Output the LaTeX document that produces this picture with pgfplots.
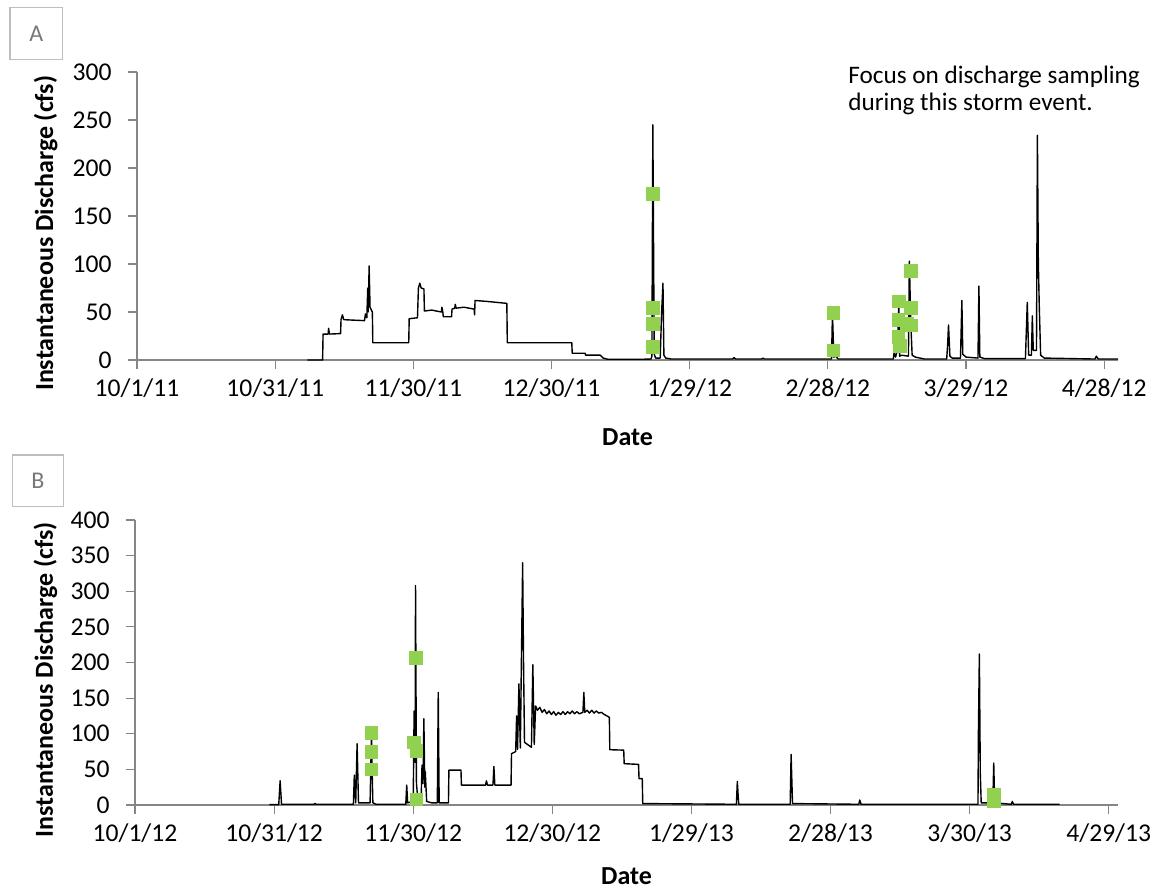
\documentclass[border=0pt]{standalone}
\usepackage{pgfplots}
\pgfplotsset{compat=1.18}
\usepackage{fontspec}
\setmainfont{Carlito}
\definecolor{axgray}{RGB}{134,134,134}
\definecolor{boxgray}{RGB}{190,190,190}
\definecolor{lettergray}{RGB}{120,120,120}
\definecolor{mgreen}{RGB}{146,208,80}
\pgfplotsset{
  panel/.style={
    scale only axis,
    axis x line*=bottom, axis y line*=left,
    axis line style={-, draw=axgray, line width=0.6bp},
    tick style={draw=axgray, line width=0.6bp},
    tick align=outside, major tick length=4.5bp,
    xmin=0, xtick={0,30,...,210},
    ymin=0,
    /pgf/number format/assume math mode=true,
    tick label style={font=\fontsize{12.8bp}{14bp}\selectfont},
    yticklabel style={anchor=east, inner sep=0pt, xshift=-8bp},
    xticklabel style={anchor=north, inner sep=0pt, yshift=-4.5bp},
    label style={font=\bfseries\fontsize{13bp}{15bp}\selectfont},
    xlabel={Date},
    ylabel={Instantaneous Discharge (cfs)},
    clip=false,
  },
  flow/.style={black, line width=0.7bp, no marks, line join=round},
  samp/.style={only marks, mark=square*, mark size=3.2bp,
    mark options={fill=mgreen, draw=mgreen, rounded corners=0.8bp}},
}
\begin{document}
\begin{tikzpicture}
\useasboundingbox (0,0) rectangle (581bp,445bp);
% ---------------- Panel A ----------------
\begin{axis}[panel,
  at={(68.5bp,265bp)}, anchor=south west,
  width=490.5bp, height=144bp,
  xmax=213, ymax=300, ytick={0,50,...,300},
  xticklabels={10/1/11,10/31/11,11/30/11,12/30/11,1/29/12,2/28/12,3/29/12,4/28/12},
  xlabel style={at={(rel axis cs:0.5,-0.267)}, anchor=center},
  ylabel style={at={(rel axis cs:-0.093,0.44)}, anchor=center},
]
\addplot[flow] coordinates {
(37,0) (40.3,0) (40.4,27) (41.5,27) (41.6,33) (41.8,27) (44.2,27.5) (44.3,42)
(44.6,47) (44.9,42) (47,41.5) (49.4,41) (49.6,48) (49.9,44) (50.1,75) (50.2,50)
(50.4,98) (50.6,55) (51.1,50) (51.2,18) (59.0,18) (59.1,43) (60.9,44) (61.1,75)
(61.4,80) (61.7,75) (62.3,74) (62.4,51) (64,52) (65,51) (66.1,50) (66.2,55)
(66.4,50) (66.5,45) (68.3,45) (68.4,53) (69.0,54) (69.1,58) (69.3,54) (71,55)
(73.2,53) (73.3,47) (73.4,62) (76,61) (80.3,59) (80.4,18) (94.4,18) (94.5,7)
(97.3,7) (97.4,5) (100.6,5) (101.2,2) (102.2,0.8) (110,0.8) (111.6,1) (111.8,4)
(112.0,245) (112.3,6) (112.6,2) (113.6,2) (113.9,49) (114.2,80) (114.4,5) (114.8,2)
(116,1) (129.3,1) (129.6,2.5) (130,1) (135.6,1) (135.9,2) (136.2,1) (150.8,1)
(151.0,49) (151.3,3) (151.8,4) (152.2,1) (164.2,1) (164.4,8) (164.7,3) (165.1,10)
(165.4,61) (165.6,4) (166,5) (167.5,4) (167.7,103) (168.0,40) (168.3,5) (169,3)
(171,1) (175.8,1) (176.0,15) (176.2,36.5) (176.5,4) (177,2) (178.8,2) (179.1,62)
(179.3,6) (180,3) (182.6,2) (182.8,77) (183,3) (184,1.5) (192.9,1.5) (193.3,60)
(193.6,5) (194.2,5) (194.4,46) (194.6,10) (195.3,10) (195.5,234) (195.7,102) (195.9,57)
(196.2,5) (197,2) (208,1) (208.3,4) (208.7,1) (213,1)
};
\addplot[samp] coordinates {
(112.0,173) (112.0,54) (112.0,38) (112.0,14)
(151.2,49) (151.2,10)
(165.4,61) (165.3,42) (165.3,24) (165.6,15)
(168.0,93) (168.0,54) (168.0,36) (167.2,38)
};
\end{axis}
% ---------------- Panel B ----------------
\begin{axis}[panel,
  at={(67.5bp,42.5bp)}, anchor=south west,
  width=491.5bp, height=142.5bp,
  xmax=212, ymax=400, ytick={0,50,...,400},
  xticklabels={10/1/12,10/31/12,11/30/12,12/30/12,1/29/13,2/28/13,3/30/13,4/29/13},
  xlabel style={at={(rel axis cs:0.5,-0.248)}, anchor=center},
  ylabel style={at={(rel axis cs:-0.091,0.44)}, anchor=center},
]
\addplot[flow] coordinates {
(29,0.5) (31.0,0.5) (31.3,34) (31.6,1) (38.6,1) (38.8,2) (39.1,1) (47.1,1)
(47.3,42) (47.6,3) (47.9,86) (48.2,3) (50.7,3) (51.0,101) (51.1,60) (51.3,3)
(52,1) (58.4,1) (58.6,28) (58.8,3) (60.0,5) (60.2,132) (60.4,60) (60.5,308)
(60.7,30) (61.0,8) (61.7,5) (61.9,56) (62.1,30) (62.3,121) (62.5,25) (62.6,47)
(62.9,5) (64,3) (65.2,3) (65.4,158) (65.6,3) (67.6,3) (67.7,49) (70.3,49)
(70.4,28) (75.6,28) (75.8,34) (76,28) (77.2,28) (77.4,54) (77.6,28) (81.1,28)
(81.2,72) (82.1,75) (82.3,125) (82.5,78) (82.8,170) (83.1,80) (83.6,340) (83.8,197)
(84.0,88) (85.5,81) (85.8,197) (86.1,85) (86.4,139) (86.8,133) (87.3,137) (87.8,130)
(88.3,134) (88.8,128) (89.3,132) (89.8,127) (90.3,131) (90.8,126) (91.3,130) (91.8,127)
(92.3,131) (92.8,127) (93.3,131) (93.8,128) (94.3,132) (94.8,128) (95.3,131) (95.8,128)
(96.6,130) (96.8,158) (97.0,130) (97.5,133) (98,129) (98.5,133) (99,129) (99.5,132)
(100,129) (100.6,130) (101.2,127) (101.8,125) (102.3,123) (102.4,77.6) (105.4,77)
(105.5,58) (108.6,57) (108.7,37) (109.4,37) (109.5,2) (129.7,1) (129.9,33) (130.2,1)
(141.3,1) (141.5,71) (141.8,2) (156.1,1) (156.3,7) (156.6,1) (181.8,1) (181.9,105)
(182.1,212) (182.3,44) (182.5,3) (185.0,3) (185.2,59) (185.4,3) (189.0,1) (189.2,5)
(189.5,1) (199.4,1)
};
\addplot[samp] coordinates {
(51.0,101) (51.0,75) (51.0,50)
(60.2,88) (60.5,207) (60.7,76) (60.7,8)
(185.2,15) (185.2,5)
};
\end{axis}
% ---------------- Panel tags and note ----------------
\draw[boxgray, line width=0.75bp] (5bp,415.35bp) rectangle (31.35bp,441.35bp);
\node[lettergray, font=\fontsize{12bp}{14bp}\selectfont] at (18.2bp,428.3bp) {A};
\draw[boxgray, line width=0.75bp] (6.35bp,191.65bp) rectangle (31.65bp,217.5bp);
\node[lettergray, font=\fontsize{12bp}{14bp}\selectfont] at (19bp,204.6bp) {B};
\node[anchor=base west, inner sep=0pt, font=\fontsize{12.6bp}{14bp}\selectfont] at (424bp,403bp) {Focus on discharge sampling};
\node[anchor=base west, inner sep=0pt, font=\fontsize{12.6bp}{14bp}\selectfont] at (424bp,389.5bp) {during this storm event.};
\end{tikzpicture}
\end{document}
